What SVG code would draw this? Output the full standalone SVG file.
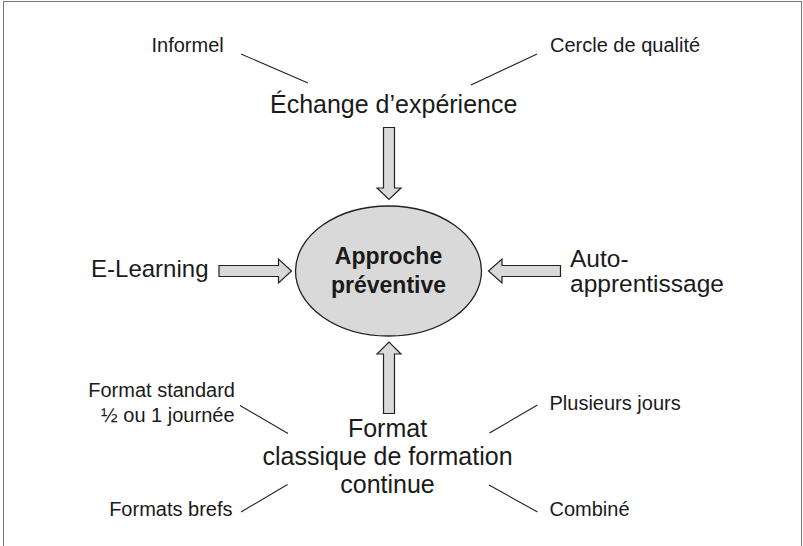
<svg xmlns="http://www.w3.org/2000/svg" width="803" height="546" viewBox="0 0 803 546">
<style>
  text { font-family: "Liberation Sans", Arial, Helvetica, sans-serif; fill: #1a1a1a; }
  .s { font-size: 20px; }
  .l { font-size: 25px; }
  .b { font-size: 23px; font-weight: bold; }
  .mid { text-anchor: middle; }
  .end { text-anchor: end; }
  .arrow { fill: #d9d9d9; stroke: #222; stroke-width: 1.2; stroke-linejoin: miter; }
  .lead { stroke: #222; stroke-width: 1.1; fill: none; }
</style>
<rect x="3.5" y="1.5" width="798" height="560" fill="#fff" stroke="#777" stroke-width="1"/>

<g id="connectors">
  <line class="lead" x1="241" y1="54" x2="308" y2="83"/>
  <line class="lead" x1="537" y1="54" x2="471" y2="85"/>
  <line class="lead" x1="240" y1="405.5" x2="288" y2="433.5"/>
  <line class="lead" x1="537.5" y1="405" x2="489.5" y2="433"/>
  <line class="lead" x1="241" y1="512" x2="287.5" y2="484.5"/>
  <line class="lead" x1="489" y1="485" x2="537.5" y2="512"/>
  <polygon class="arrow" points="383.5,127.5 394.5,127.5 394.5,188 401,188 389,199.5 377,188 383.5,188"/>
  <polygon class="arrow" points="383.5,413.5 394.5,413.5 394.5,354 401,354 389,342 377,354 383.5,354"/>
  <polygon class="arrow" points="219,265.5 278.5,265.5 278.5,259 291.5,271 278.5,283 278.5,276.5 219,276.5"/>
  <polygon class="arrow" points="560.5,265.5 502,265.5 502,259 488.5,271 502,283 502,276.5 560.5,276.5"/>
</g>

<g id="center">
  <ellipse cx="388.5" cy="271" rx="93" ry="65" fill="#d9d9d9" stroke="#222" stroke-width="1.3"/>
  <text class="b mid" x="388.5" y="264">Approche</text>
  <text class="b mid" x="388.5" y="293">préventive</text>
</g>

<g id="echange">
  <text class="l mid" x="393.7" y="112.5">Échange d’expérience</text>
</g>
<g id="informel">
  <text class="s" x="151.5" y="52">Informel</text>
</g>
<g id="cercle">
  <text class="s" x="550" y="52">Cercle de qualité</text>
</g>

<g id="elearning">
  <text class="end" x="208.5" y="277" font-size="24">E-Learning</text>
</g>
<g id="auto">
  <text font-size="24.5" x="570" y="266.5">Auto-<tspan x="570" y="292">apprentissage</tspan></text>
</g>

<g id="format">
  <text class="l mid" x="387.5" y="437">Format</text>
  <text class="l mid" x="387.5" y="465">classique de formation</text>
  <text class="l mid" x="387.5" y="493">continue</text>
</g>
<g id="standard">
  <text class="s end" x="235" y="397">Format standard</text>
  <text class="s end" x="234.5" y="422">½ ou 1 journée</text>
</g>
<g id="plusieurs">
  <text class="s" x="549.5" y="410">Plusieurs jours</text>
</g>
<g id="brefs">
  <text class="s end" x="232.5" y="516">Formats brefs</text>
</g>
<g id="combine">
  <text class="s" x="549.5" y="516">Combiné</text>
</g>
</svg>
